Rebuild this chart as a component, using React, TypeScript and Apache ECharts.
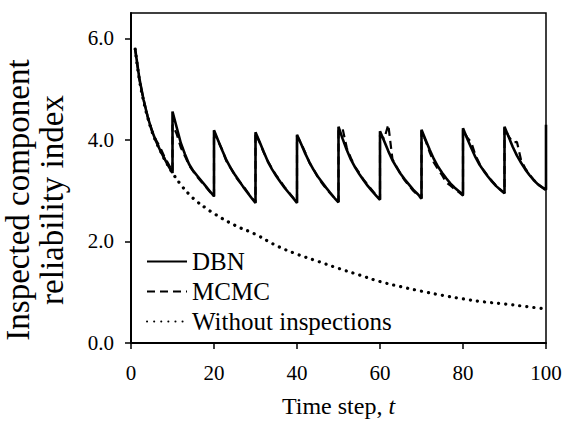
import React, { useEffect, useRef } from "react";
import * as echarts from "echarts";

const xTicks = [0, 20, 40, 60, 80, 100];
const yTicks = [0, 2, 4, 6];
const yTitleLines = ["Inspected component", "reliability index"];

// [time step, reliability index]
const dbn: [number, number][] = [
  [1, 5.79], [2, 5.22], [3, 4.8], [4, 4.46], [5, 4.19], [6, 3.98], [7, 3.8], [8, 3.64], [9, 3.49], [10, 3.35],
  [10, 4.56], [11, 4.25], [12, 3.94], [13, 3.72], [14, 3.52], [15, 3.39], [16, 3.29], [17, 3.19], [18, 3.09], [19, 2.99], [20, 2.89],
  [20, 4.19], [21, 3.99], [22, 3.79], [23, 3.6], [24, 3.45], [25, 3.32], [26, 3.2], [27, 3.08], [28, 2.97], [29, 2.86], [30, 2.76],
  [30, 4.15], [31, 3.96], [32, 3.76], [33, 3.57], [34, 3.42], [35, 3.29], [36, 3.17], [37, 3.06], [38, 2.96], [39, 2.86], [40, 2.76],
  [40, 4.1], [41, 3.92], [42, 3.73], [43, 3.56], [44, 3.41], [45, 3.28], [46, 3.17], [47, 3.06], [48, 2.96], [49, 2.86], [50, 2.77],
  [50, 4.26], [51, 4.02], [52, 3.8], [53, 3.61], [54, 3.46], [55, 3.33], [56, 3.21], [57, 3.1], [58, 3.0], [59, 2.91], [60, 2.82],
  [60, 4.17], [61, 3.98], [62, 3.78], [63, 3.6], [64, 3.46], [65, 3.33], [66, 3.22], [67, 3.12], [68, 3.02], [69, 2.94], [70, 2.85],
  [70, 4.2], [71, 4.0], [72, 3.8], [73, 3.62], [74, 3.47], [75, 3.35], [76, 3.24], [77, 3.14], [78, 3.06], [79, 2.99], [80, 2.92],
  [80, 4.23], [81, 4.03], [82, 3.84], [83, 3.66], [84, 3.51], [85, 3.39], [86, 3.28], [87, 3.18], [88, 3.09], [89, 3.02], [90, 2.95],
  [90, 4.26], [91, 4.06], [92, 3.86], [93, 3.69], [94, 3.55], [95, 3.42], [96, 3.31], [97, 3.21], [98, 3.13], [99, 3.07], [100, 3.02],
  [100, 4.3],
];

const mcmc: [number, number][] = [
  [1, 5.79], [2, 5.2], [3, 4.8], [4, 4.47], [5, 4.2], [6, 4.0], [7, 3.86], [8, 3.68], [9, 3.53], [10, 3.38],
  [10, 4.3], [11, 4.12], [12, 3.85], [13, 3.68], [14, 3.5], [15, 3.38], [16, 3.27], [17, 3.17], [18, 3.08], [19, 2.98], [20, 2.88],
  [20, 4.17], [21, 3.97], [22, 3.8], [23, 3.58], [24, 3.45], [25, 3.3], [26, 3.19], [27, 3.1], [28, 2.98], [29, 2.87], [30, 2.77],
  [30, 4.13], [31, 3.95], [32, 3.75], [33, 3.58], [34, 3.43], [35, 3.3], [36, 3.19], [37, 3.07], [38, 2.97], [39, 2.87], [40, 2.77],
  [40, 4.08], [41, 3.93], [42, 3.75], [43, 3.55], [44, 3.42], [45, 3.27], [46, 3.15], [47, 3.04], [48, 2.95], [49, 2.86], [50, 2.78],
  [50, 4.18], [51, 4.22], [52, 3.84], [53, 3.64], [54, 3.47], [55, 3.35], [56, 3.22], [57, 3.12], [58, 3.02], [59, 2.92], [60, 2.83],
  [60, 4.1], [61, 4.02], [62, 4.3], [63, 3.62], [64, 3.47], [65, 3.32], [66, 3.2], [67, 3.1], [68, 3.0], [69, 2.92], [70, 2.84],
  [70, 4.18], [71, 3.98], [72, 3.75], [73, 3.55], [74, 3.42], [75, 3.3], [76, 3.16], [77, 3.1], [78, 3.03], [79, 2.97], [80, 2.9],
  [80, 4.2], [81, 4.05], [82, 3.95], [83, 3.7], [84, 3.53], [85, 3.4], [86, 3.29], [87, 3.19], [88, 3.1], [89, 3.02], [90, 2.95],
  [90, 4.24], [91, 4.07], [92, 3.95], [93, 3.96], [94, 3.6], [95, 3.44], [96, 3.32], [97, 3.22], [98, 3.13], [99, 3.07], [100, 3.0],
];

const withoutInspections: [number, number][] = [
  [1, 5.79], [2, 5.2], [3, 4.78], [4, 4.45], [5, 4.18], [6, 3.97], [7, 3.8], [8, 3.63], [9, 3.49], [10, 3.35],
  [12, 3.12], [14, 2.93], [16, 2.78], [18, 2.66], [20, 2.55], [25, 2.32], [30, 2.14], [35, 1.92], [40, 1.75],
  [45, 1.61], [50, 1.47], [55, 1.34], [60, 1.21], [65, 1.11], [70, 1.02], [75, 0.94], [80, 0.87], [85, 0.81],
  [90, 0.77], [95, 0.72], [100, 0.67],
];

const FONT = "Liberation Serif";

export default function App() {
  const ref = useRef<HTMLDivElement>(null);
  useEffect(() => {
    if (!ref.current) return;
    const chart = echarts.init(ref.current, null, { renderer: "svg" });
    chart.setOption({
      animation: false,
      backgroundColor: "#fff",
      textStyle: { fontFamily: FONT, color: "#000" },
      grid: {
        left: 131, right: 18, top: 13, bottom: 78,
        show: true, borderColor: "#000", borderWidth: 1.5,
        containLabel: false, outerBoundsMode: "none",
      },
      legend: {
        orient: "vertical", left: 146, top: 249, padding: 0, itemGap: 5,
        itemWidth: 40, itemHeight: 14, itemStyle: { opacity: 0 },
        textStyle: { fontFamily: FONT, fontSize: 25, color: "#000" },
        data: ["DBN", "MCMC", "Without inspections"],
      },
      xAxis: {
        type: "value", min: 0, max: 100, interval: 20,
        name: "Time step, {i|t}", nameLocation: "middle", nameGap: 51,
        nameTextStyle: {
          fontFamily: FONT, fontSize: 24, color: "#000",
          rich: { i: { fontFamily: FONT, fontSize: 24, fontStyle: "italic", color: "#000" } },
        },
        axisLine: { lineStyle: { color: "#000", width: 2 } },
        axisTick: { show: true, inside: false, length: 6, lineStyle: { color: "#000", width: 1.5 } },
        axisLabel: { margin: 19, fontFamily: FONT, fontSize: 21, color: "#000", customValues: xTicks },
        splitLine: { show: false },
      },
      yAxis: {
        type: "value", min: 0, max: 6.5,
        axisLine: { show: true, lineStyle: { color: "#000", width: 2 } },
        axisTick: { show: true, inside: false, length: 6, lineStyle: { color: "#000", width: 1.5 }, customValues: yTicks },
        axisLabel: {
          margin: 17, fontFamily: FONT, fontSize: 21, color: "#000",
          customValues: yTicks, formatter: (v: number) => v.toFixed(1),
        },
        splitLine: { show: false },
      },
      graphic: yTitleLines.map((line, i) => ({
        type: "text", x: 18 + i * 34, y: 200, rotation: Math.PI / 2,
        style: {
          text: line, fontFamily: FONT, fontSize: 33, fill: "#000",
          textAlign: "center", textVerticalAlign: "middle",
        },
      })),
      series: [
        { name: "DBN", type: "line", data: dbn, symbol: "none", z: 3,
          lineStyle: { color: "#000", width: 2.6, type: "solid" }, itemStyle: { color: "#000" } },
        { name: "MCMC", type: "line", data: mcmc, symbol: "none", z: 4,
          lineStyle: { color: "#000", width: 2.2, type: [8, 5] }, itemStyle: { color: "#000" } },
        { name: "Without inspections", type: "line", data: withoutInspections, symbol: "none", smooth: true, z: 2,
          lineStyle: { color: "#000", width: 3.2, type: [0.1, 7], cap: "round" }, itemStyle: { color: "#000" } },
      ],
    });
    return () => chart.dispose();
  }, []);
  return (
    <div ref={ref} style={{ position: "fixed", left: 0, top: 0, width: 564, height: 421, background: "#fff" }} />
  );
}
